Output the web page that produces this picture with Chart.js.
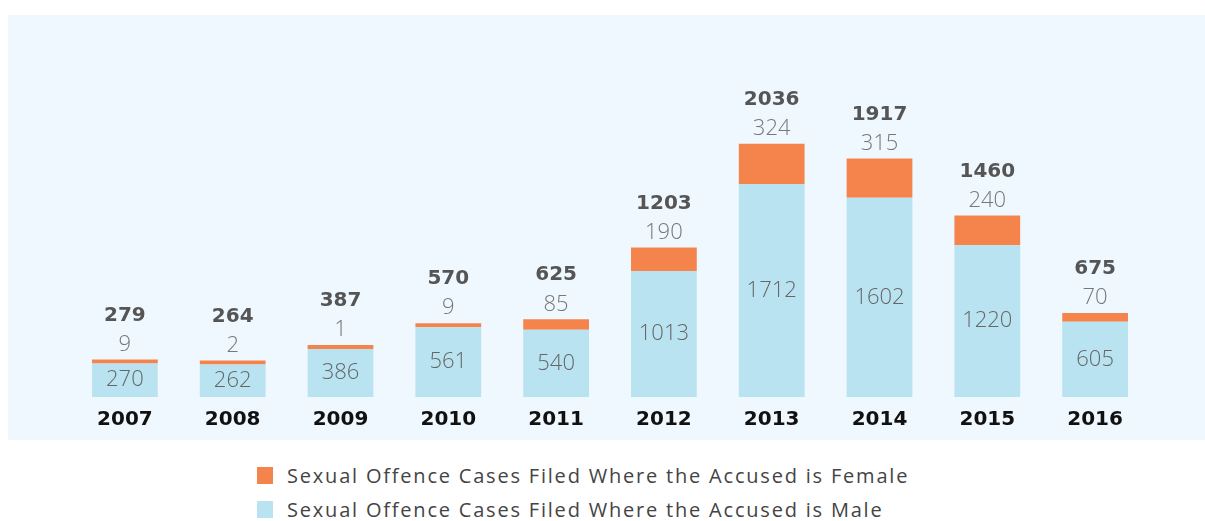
<!DOCTYPE html>
<html>
<head>
<meta charset="utf-8">
<script src="https://cdn.jsdelivr.net/npm/chart.js@4"></script>
<style>
  body { margin: 0; background: #fff; width: 1205px; height: 521px; position: relative; overflow: hidden; font-family: "Open Sans", sans-serif; }
  .panel { position: absolute; left: 8px; top: 15px; width: 1197px; height: 425px; background: #eff8fe; }
  #casesChart { position: absolute; left: 0; top: 0; }
  .legend { position: absolute; left: 257px; top: 458px; }
  .legend-item { display: flex; align-items: center; height: 34px; font-size: 20px; color: #444; letter-spacing: 1.8px; }
  .swatch { width: 16px; height: 17px; margin-right: 14px; }
</style>
</head>
<body>
<div class="panel">
  <canvas id="casesChart" width="1197" height="428"></canvas>
</div>
<div class="legend">
  <div class="legend-item"><span class="swatch" style="background:#f5844c"></span>Sexual Offence Cases Filed Where the Accused is Female</div>
  <div class="legend-item"><span class="swatch" style="background:#b9e3f0"></span>Sexual Offence Cases Filed Where the Accused is Male</div>
</div>
<script>
const years = ['2007', '2008', '2009', '2010', '2011', '2012', '2013', '2014', '2015', '2016'];
const maleCases = [270, 262, 386, 561, 540, 1013, 1712, 1602, 1220, 605];
const femaleCases = [9, 2, 1, 9, 85, 190, 324, 315, 240, 70];
const totalCases = [279, 264, 387, 570, 625, 1203, 2036, 1917, 1460, 675];

// Value labels: male inside bar, female and total stacked above
const valueLabels = {
    id: 'valueLabels',
    afterDatasetsDraw(chart) {
        const ctx = chart.ctx;
        const maleMeta = chart.getDatasetMeta(0);
        const femaleMeta = chart.getDatasetMeta(1);
        ctx.save();
        ctx.textAlign = 'center';
        ctx.textBaseline = 'middle';
        maleMeta.data.forEach((bar, i) => {
            const p = bar.getProps(['x', 'y', 'base'], true);
            ctx.font = '300 22px "Open Sans", sans-serif';
            ctx.fillStyle = '#666';
            ctx.fillText(maleCases[i], p.x, (p.y + p.base) / 2);

            const top = femaleMeta.data[i].getProps(['y'], true).y;
            ctx.fillStyle = '#777';
            ctx.fillText(femaleCases[i], p.x, top - 15);

            ctx.font = 'bold 20px "DejaVu Sans", sans-serif';
            ctx.fillStyle = '#555';
            ctx.fillText(totalCases[i], p.x, top - 44);
        });
        ctx.restore();
    }
};

new Chart(document.getElementById('casesChart'), {
    type: 'bar',
    data: {
        labels: years,
        datasets: [{
            label: 'Sexual Offence Cases Filed Where the Accused is Male',
            data: maleCases,
            backgroundColor: '#b9e3f0'
        }, {
            label: 'Sexual Offence Cases Filed Where the Accused is Female',
            data: femaleCases,
            backgroundColor: '#f5844c',
            minBarLength: 4
        }]
    },
    options: {
        responsive: false,
        animation: false,
        layout: {
            padding: { left: 63, right: 56, top: 40, bottom: 0 }
        },
        datasets: {
            bar: {
                categoryPercentage: 1,
                barPercentage: 0.61,
                borderWidth: 0
            }
        },
        plugins: {
            legend: { display: false },
            tooltip: { enabled: false }
        },
        scales: {
            x: {
                stacked: true,
                grid: { display: false, drawTicks: false },
                border: { display: false },
                ticks: {
                    padding: 11,
                    color: '#111',
                    font: { family: '"DejaVu Sans", sans-serif', size: 20, weight: 'bold' }
                }
            },
            y: {
                stacked: true,
                display: false,
                min: 0,
                max: 2750
            }
        }
    },
    plugins: [valueLabels]
});
</script>
</body>
</html>
